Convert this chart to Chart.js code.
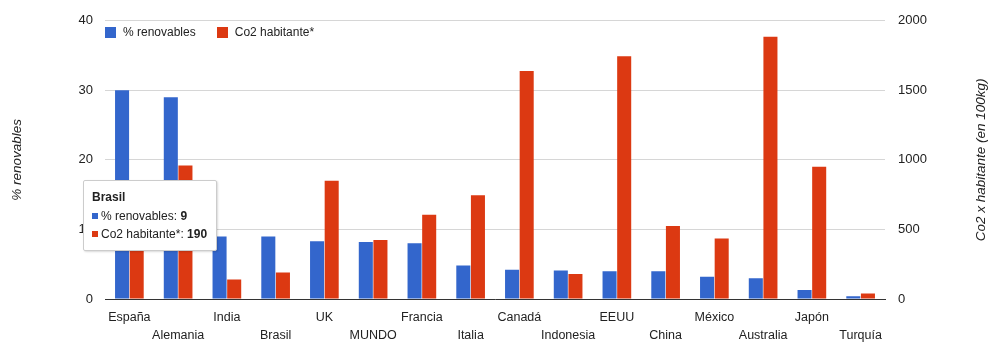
<!DOCTYPE html>
<html>
<head>
<meta charset="utf-8">
<script src="https://cdn.jsdelivr.net/npm/chart.js@4/dist/chart.umd.min.js"></script>
<style>
  html, body { margin: 0; padding: 0; background: #fff; }
  #wrap { position: relative; width: 988px; height: 345px; font-family: "Liberation Sans", Arial, sans-serif; }
  #chart { display: block; }
  #legend { position: absolute; left: 105px; top: 25px; display: flex; font-size: 12px; color: #222; }
  #legend .item { display: flex; align-items: center; margin-right: 12px; }
  #legend .sw { width: 11px; height: 11px; margin-right: 7px; }
  #tip { position: absolute; display: none; background: #fff; border: 1px solid #ccc; border-radius: 2px;
         box-shadow: 1px 1px 2px rgba(0,0,0,0.15); padding: 7px 9px 6px 8px; font-size: 12px; color: #222; line-height: 18.5px; white-space: nowrap; }
  #tip .sq { display: inline-block; width: 6px; height: 6px; margin-right: 3px; vertical-align: 1px; }
</style>
</head>
<body>
<div id="wrap">
  <canvas id="chart" width="988" height="345"></canvas>
  <div id="legend"></div>
  <div id="tip"></div>
</div>
<script>
// Countries and their two measures
const paises = ['España', 'Alemania', 'India', 'Brasil', 'UK', 'MUNDO', 'Francia', 'Italia',
                'Canadá', 'Indonesia', 'EEUU', 'China', 'México', 'Australia', 'Japón', 'Turquía'];
const renovables = [30, 29, 9, 9, 8.3, 8.2, 8, 4.8, 4.2, 4.1, 4, 4, 3.2, 3, 1.3, 0.4];
const co2Habitante = [790, 960, 140, 190, 850, 425, 605, 745, 1640, 180, 1745, 525, 435, 1885, 950, 40];

const ticksRenovables = [0, 10, 20, 30, 40];
const ticksCo2 = [0, 500, 1000, 1500, 2000];

const serieNombres = ['% renovables', 'Co2 habitante*'];
const serieColores = ['#3366cc', '#dc3912'];
const tituloIzq = '% renovables';
const tituloDer = 'Co2 x habitante (en 100kg)';
const paisDestacado = 'Brasil';

const FONT = '"Liberation Sans", Arial, sans-serif';

// Rotated axis titles, both reading bottom-to-top
const axisTitles = {
  id: 'axisTitles',
  afterDraw(chart) {
    const { ctx, chartArea } = chart;
    const cy = (chartArea.top + chartArea.bottom) / 2;
    ctx.save();
    ctx.font = 'italic 13.5px ' + FONT;
    ctx.fillStyle = '#222';
    ctx.textAlign = 'center';
    ctx.textBaseline = 'middle';
    [[17, tituloIzq], [981, tituloDer]].forEach(([x, t]) => {
      ctx.save();
      ctx.translate(x, cy);
      ctx.rotate(-Math.PI / 2);
      ctx.fillText(t, 0, 0);
      ctx.restore();
    });
    ctx.restore();
  }
};

function externalTooltip(context) {
  const { chart, tooltip } = context;
  const el = document.getElementById('tip');
  if (tooltip.opacity === 0 || !tooltip.dataPoints || !tooltip.dataPoints.length) {
    el.style.display = 'none';
    return;
  }
  let html = '<b>' + tooltip.dataPoints[0].label + '</b>';
  tooltip.dataPoints.forEach(dp => {
    html += '<br><span class="sq" style="background:' + dp.dataset.backgroundColor + '"></span>' +
            dp.dataset.label + ': <b>' + dp.raw + '</b>';
  });
  el.innerHTML = html;
  el.style.display = 'block';
  el.style.left = (chart.chartArea.left - 22) + 'px';
  el.style.top = '180px';
}

const plainTick = v => String(v);

const chart = new Chart(document.getElementById('chart'), {
  type: 'bar',
  data: {
    labels: paises,
    datasets: [
      { label: serieNombres[0], data: renovables, backgroundColor: serieColores[0], yAxisID: 'y',
        categoryPercentage: 0.6, barPercentage: 0.96 },
      { label: serieNombres[1], data: co2Habitante, backgroundColor: serieColores[1], yAxisID: 'y1',
        categoryPercentage: 0.6, barPercentage: 0.96 }
    ]
  },
  options: {
    responsive: false,
    animation: false,
    layout: { padding: { top: 16, bottom: 0, left: 0, right: 0 } },
    plugins: {
      legend: { display: false },
      tooltip: { enabled: false, mode: 'index', intersect: false, external: externalTooltip }
    },
    events: [],
    scales: {
      x: {
        grid: { display: false },
        border: { display: true, color: '#333', width: 1 },
        ticks: {
          autoSkip: false, maxRotation: 0, padding: 1, color: '#222',
          font: { family: FONT, size: 12.5, lineHeight: 1.45 },
          callback: function (v, i) { const l = this.getLabelForValue(v); return i % 2 ? ['', l] : l; }
        },
        afterFit(s) { s.height = 46; }
      },
      y: {
        position: 'left', min: 0, max: 40,
        afterBuildTicks(s) { s.ticks = ticksRenovables.map(v => ({ value: v })); },
        grid: { color: '#d6d6d6', drawTicks: false },
        border: { display: false },
        ticks: { padding: 12, color: '#222', font: { family: FONT, size: 13 }, callback: plainTick },
        afterFit(s) { s.width = 105; }
      },
      y1: {
        position: 'right', min: 0, max: 2000,
        afterBuildTicks(s) { s.ticks = ticksCo2.map(v => ({ value: v })); },
        grid: { drawOnChartArea: false, drawTicks: false },
        border: { display: false },
        ticks: { padding: 13, color: '#222', font: { family: FONT, size: 13 }, callback: plainTick },
        afterFit(s) { s.width = 103; }
      }
    }
  },
  plugins: [axisTitles]
});

// Legend built from the datasets
const legend = document.getElementById('legend');
chart.data.datasets.forEach((ds, i) => {
  const item = document.createElement('div');
  item.className = 'item';
  if (i === 0) item.style.marginRight = '21px';
  item.innerHTML = '<span class="sw" style="background:' + ds.backgroundColor + '"></span>' + ds.label;
  legend.appendChild(item);
});

// Show the tooltip for the highlighted country
const idx = paises.indexOf(paisDestacado);
const el0 = chart.getDatasetMeta(0).data[idx];
chart.tooltip.setActiveElements(
  [{ datasetIndex: 0, index: idx }, { datasetIndex: 1, index: idx }],
  { x: el0.x, y: el0.y }
);
</script>
</body>
</html>
